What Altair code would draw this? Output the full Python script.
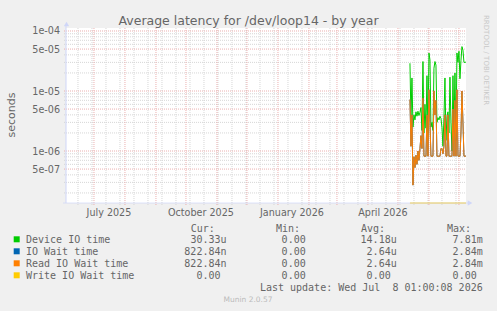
import altair as alt
import pandas as pd

# ---------------- data ----------------
first_day = "2026-05-13"
device_io = [2.9e-5, 3.5e-6, 1.65e-5, 2.5e-6, 4.0e-6, 3.3e-6, 4.5e-6, 3.8e-6, 4.6e-6, 3.9e-6,
             4.4e-6, 5.3e-6, 2.2e-6, 3.1e-5, 2.0e-6, 6.0e-6, 2.4e-6, 1.8e-5, 2.0e-6, 4.3e-5,
             3.3e-5, 2.5e-6, 3.0e-6, 2.2e-6, 2.4e-5, 3.1e-5, 2.7e-5, 3.0e-6, 3.6e-6, 3.3e-6,
             3.8e-6, 3.5e-6, 2.5e-6, 1.2e-6, 3.6e-6, 1.65e-5, 1.5e-6, 3.8e-6, 4.5e-6, 2.0e-6,
             1.7e-5, 3.0e-6, 1.0e-6, 1.8e-5, 2.0e-6, 2.0e-5, 1.5e-6, 4.3e-5, 3.0e-5, 4.6e-5,
             1.6e-5, 3.2e-5, 5.5e-5, 4.8e-5, 3.0e-5, 3.0e-5, 3.033e-5]
read_io = [7.2e-6, 1.2e-6, 4.0e-6, 2.7e-7, 8.0e-7, 5.3e-7, 8.5e-7, 6.0e-7, 1.0e-6, 7.0e-7,
           1.1e-6, 1.8e-6, 1.1e-6, 7.6e-6, 8.2e-7, 8.2e-7, 8.2e-7, 4.0e-6, 8.2e-7, 1.05e-5,
           3.0e-6, 8.2e-7, 8.2e-7, 8.2e-7, 1.0e-5, 4.0e-6, 7.0e-6, 8.2e-7, 8.2e-7, 8.2e-7,
           8.2e-7, 1.1e-6, 1.1e-6, 9.0e-7, 1.2e-6, 4.0e-6, 8.2e-7, 8.2e-7, 4.0e-6, 8.2e-7,
           8.2e-7, 8.2e-7, 8.2e-7, 5.0e-6, 8.2e-7, 7.0e-6, 8.2e-7, 1.05e-5, 8.2e-7, 8.2e-7,
           8.2e-7, 2.0e-6, 1.0e-5, 3.0e-6, 8.2e-7, 8.2e-7, 8.2284e-7]
io_wait = list(read_io)
write_io = [0.0] * len(device_io)

series_names = ["Device IO time", "IO Wait time", "Read IO Wait time", "Write IO Wait time"]
series_colors = ["#00CC00", "#0066B3", "#FF8000", "#FFCC00"]
cur_vals = ["30.33u", "822.84n", "822.84n", "0.00"]
min_vals = ["0.00", "0.00", "0.00", "0.00"]
avg_vals = ["14.18u", "2.64u", "2.64u", "0.00"]
max_vals = ["7.81m", "2.84m", "2.84m", "0.00"]

y_tick_values = [1e-4, 5e-5, 1e-5, 5e-6, 1e-6, 5e-7]
y_tick_labels = ["1e-04", "5e-05", "1e-05", "5e-06", "1e-06", "5e-07"]
x_labels = ["July 2025", "October 2025", "January 2026", "April 2026"]
x_label_dates = ["2025-07-16", "2025-10-16", "2026-01-15", "2026-04-16"]

title_text = "Average latency for /dev/loop14 - by year"
y_title = "seconds"
last_update = "Last update: Wed Jul \u00a08 01:00:08 2026"
munin_text = "Munin 2.0.57"
rrd_text = "RRDTOOL / TOBI OETIKER"

# ---------------- scales / grid ----------------
x_start, x_end = "2025-06-03T01:00:08Z", "2026-07-08T01:00:08Z"
y_min, y_max = 1.36e-7, 1.122e-4
W, H = 400, 175
xs = alt.Scale(type="utc", domain=[x_start, x_end])
ys = alt.Scale(type="log", domain=[y_min, y_max])

month_grid = pd.DataFrame({"d": pd.date_range("2025-07-01", "2026-07-01", freq="MS").strftime("%Y-%m-%dT00:00:00Z")})
week_grid = pd.DataFrame({"d": pd.date_range("2025-06-15", "2026-07-05", freq="14D").strftime("%Y-%m-%dT00:00:00Z")})
major_y = pd.DataFrame({"v": [5e-7, 1e-6, 5e-6, 1e-5, 5e-5, 1e-4]})
minor_y = pd.DataFrame({"v": [k * 10.0 ** e for e in (-7, -6, -5) for k in (2, 3, 4, 6, 7, 8, 9)
                              if y_min < k * 10.0 ** e < y_max]})

dates = pd.date_range(first_day, periods=len(device_io), freq="D").strftime("%Y-%m-%dT00:00:00Z")

MINOR = "#D6D6D6"
MAJOR = "#EBB0B0"
AXIS = "#CFD6F8"
FONT = "#666666"

def vrules(df, color):
    return alt.Chart(df).mark_rule(color=color, strokeDash=[1, 1], strokeWidth=1).encode(
        x=alt.X("d:T", scale=xs, axis=None), y=alt.value(0), y2=alt.value(H + 2))

def hrules(df, color):
    return alt.Chart(df).mark_rule(color=color, strokeDash=[1, 1], strokeWidth=1).encode(
        y=alt.Y("v:Q", scale=ys, axis=None), x=alt.value(-2), x2=alt.value(W))

layers = [vrules(week_grid, MINOR), hrules(minor_y, MINOR), vrules(month_grid, MAJOR), hrules(major_y, MAJOR)]

for name, vals, color in zip(series_names, [device_io, io_wait, read_io, write_io], series_colors):
    df = pd.DataFrame({"d": dates, "v": vals})
    layers.append(
        alt.Chart(df).transform_calculate(vy=f"max(datum.v, {y_min})")
        .mark_line(color=color, strokeWidth=1, interpolate="linear")
        .encode(x=alt.X("d:T", scale=xs, axis=None), y=alt.Y("vy:Q", scale=ys, axis=None))
    )

# axis lines and arrows
axis_df = pd.DataFrame({"a": [0]})
layers.append(alt.Chart(axis_df).mark_rule(color=AXIS, strokeWidth=1).encode(
    x=alt.value(0), y=alt.value(-3), y2=alt.value(H)))
layers.append(alt.Chart(axis_df).mark_rule(color=AXIS, strokeWidth=1, opacity=0.7).encode(
    y=alt.value(H), x=alt.value(-3), x2=alt.value(W + 3)))
layers.append(alt.Chart(axis_df).mark_point(shape="triangle-up", filled=True, color=AXIS, size=28, opacity=1).encode(
    x=alt.value(0.5), y=alt.value(-4)))
layers.append(alt.Chart(axis_df).mark_point(shape="triangle-right", filled=True, color=AXIS, size=28, opacity=1).encode(
    x=alt.value(W + 4), y=alt.value(H)))

# y tick labels
ytl = pd.DataFrame({"v": y_tick_values, "t": y_tick_labels})
layers.append(alt.Chart(ytl).mark_text(align="right", baseline="alphabetic", dy=3.5, font="DejaVu Sans",
                                         fontSize=9.6, color=FONT).encode(
    y=alt.Y("v:Q", scale=ys, axis=None), x=alt.value(-6), text="t:N"))
# x labels
xtl = pd.DataFrame({"d": x_label_dates, "t": x_labels})
layers.append(alt.Chart(xtl).mark_text(align="center", baseline="alphabetic", font="DejaVu Sans",
                                         fontSize=9.6, color=FONT).encode(
    x=alt.X("d:T", scale=xs, axis=None), y=alt.value(187.5), text="t:N"))

OX, OY = 66, 28
def txt(text, x, y, align="left", font="DejaVu Sans", size=9.6, color=FONT, angle=0):
    return alt.Chart(pd.DataFrame({"t": [text]})).mark_text(
        align=align, baseline="alphabetic", font=font, fontSize=size, color=color, angle=angle
    ).encode(x=alt.value(x - OX), y=alt.value(y - OY), text="t:N")

layers.append(txt(title_text, 248.5, 24.7, align="center", size=12.5))
layers.append(txt(y_title, 15, 115, align="center", size=11, angle=270))
layers.append(txt(rrd_text, 484, 15, align="left", size=7.0, color="#C8C8C8", angle=90))

MONO = "DejaVu Sans Mono"
CW = 6.0
header_y = 231.7
layers.append(txt("Cur:", 190.7, header_y, font=MONO, size=10))
layers.append(txt("Min:", 276, header_y, font=MONO, size=10))
layers.append(txt("Avg:", 361, header_y, font=MONO, size=10))
layers.append(txt("Max:", 447, header_y, font=MONO, size=10))
col_right = [226.5, 311.7, 396.7, 482.7]
for i, name in enumerate(series_names):
    by = 243 + 12 * i
    layers.append(alt.Chart(pd.DataFrame({"c": [series_colors[i]]})).mark_square(size=36, opacity=1, filled=True).encode(
        x=alt.value(16.7 - OX), y=alt.value(by - 3.7 - OY), color=alt.Color("c:N", scale=None)))
    layers.append(txt(name, 26, by, font=MONO, size=10))
    for vals, right in zip([cur_vals, min_vals, avg_vals, max_vals], col_right):
        s = vals[i]
        xr = right if s[-1].isalpha() else right - CW
        layers.append(txt(s, xr, by, align="right", font=MONO, size=10))
layers.append(txt(last_update, 482.7, 290.6, align="right", font=MONO, size=10))
layers.append(txt(munin_text, 248, 302.2, align="center", size=7.5, color="#BBBBBB"))

chart = alt.layer(*layers).properties(
    width=W, height=H,
    autosize=alt.AutoSizeParams(type="none"),
    padding={"left": OX, "top": OY, "right": 497 - OX - W, "bottom": 311 - OY - H},
    background="#F0F0F0",
).configure_view(fill="white", stroke=None)

chart.save("out.html", embed_options={"renderer": "svg", "actions": False})
